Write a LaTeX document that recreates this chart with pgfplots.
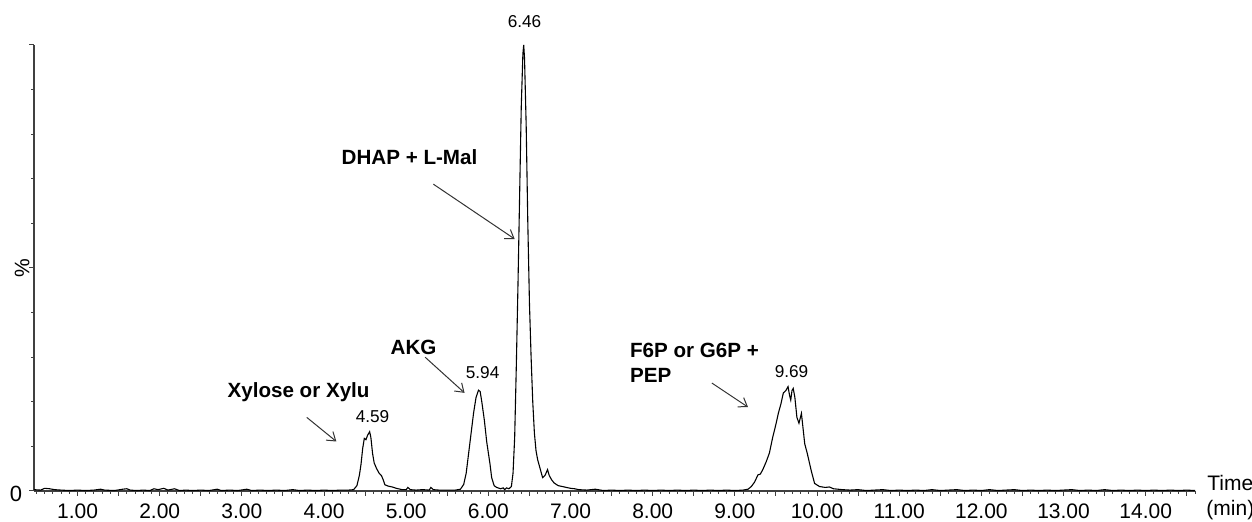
\documentclass[border=0pt]{standalone}
\usepackage{fontspec}
\setmainfont{Liberation Sans}
\usepackage{pgfplots}
\pgfplotsset{compat=1.18}
\usepackage{pgfplotstable}
\usetikzlibrary{arrows.meta}

% chromatogram trace, time (min) vs relative intensity (%)
\pgfplotstableread{
t y
0.47 0.3
0.55 0.2
0.60 0.6
0.66 0.5
0.72 0.3
0.80 0.2
0.90 0.1
1.00 0.2
1.10 0.1
1.20 0.2
1.28 0.4
1.33 0.2
1.45 0.1
1.55 0.4
1.60 0.5
1.64 0.2
1.72 0.1
1.80 0.2
1.88 0.1
1.93 0.5
1.98 0.3
2.05 0.6
2.10 0.2
2.18 0.5
2.24 0.1
2.32 0.2
2.40 0.1
2.50 0.2
2.60 0.1
2.70 0.4
2.75 0.1
2.85 0.2
2.95 0.1
3.06 0.4
3.12 0.1
3.22 0.2
3.32 0.1
3.42 0.2
3.52 0.1
3.62 0.3
3.70 0.1
3.80 0.2
3.90 0.1
4.00 0.2
4.10 0.1
4.20 0.2
4.30 0.2
4.36 0.3
4.40 1.2
4.43 3.5
4.45 6.0
4.47 9.5
4.49 11.8
4.51 11.5
4.53 12.5
4.555 13.3
4.57 12.0
4.59 8.5
4.61 6.3
4.64 5.0
4.67 4.0
4.70 3.4
4.72 2.5
4.74 1.4
4.78 1.1
4.83 0.9
4.88 0.6
4.95 0.3
5.00 0.3
5.02 0.8
5.05 0.3
5.12 0.2
5.20 0.3
5.28 0.2
5.30 0.8
5.33 0.3
5.40 0.2
5.50 0.2
5.60 0.2
5.66 0.4
5.70 1.5
5.73 4.0
5.76 8.5
5.79 13.0
5.82 17.5
5.85 21.0
5.88 22.6
5.90 22.3
5.92 20.0
5.95 16.0
5.98 11.0
6.00 8.5
6.02 6.0
6.04 3.0
6.07 1.2
6.10 0.8
6.15 0.5
6.18 0.7
6.20 0.3
6.22 0.7
6.25 0.5
6.28 1.0
6.30 4.0
6.32 12.0
6.34 28.0
6.36 46.0
6.38 66.0
6.40 86.0
6.42 98.0
6.43 100.0
6.44 97.0
6.46 82.0
6.48 60.0
6.50 42.0
6.52 30.0
6.54 20.0
6.56 13.0
6.58 9.0
6.60 7.0
6.63 5.0
6.66 3.0
6.69 3.5
6.72 4.8
6.74 3.5
6.77 2.5
6.80 1.8
6.85 1.2
6.90 1.0
6.95 0.8
7.00 0.6
7.05 0.5
7.10 0.3
7.20 0.2
7.30 0.4
7.40 0.1
7.50 0.2
7.60 0.1
7.70 0.2
7.80 0.1
7.90 0.2
8.00 0.1
8.10 0.2
8.20 0.1
8.30 0.2
8.40 0.1
8.50 0.2
8.60 0.1
8.70 0.2
8.80 0.1
8.90 0.2
9.00 0.1
9.10 0.2
9.16 0.4
9.20 1.0
9.24 2.0
9.28 3.6
9.31 3.8
9.34 4.8
9.38 6.5
9.42 8.5
9.46 12.0
9.50 15.0
9.53 17.5
9.56 19.5
9.59 22.0
9.62 22.5
9.647 23.4
9.665 21.5
9.68 20.4
9.695 22.5
9.71 23.0
9.73 21.0
9.755 16.5
9.78 15.2
9.81 17.4
9.83 14.0
9.85 10.6
9.88 8.5
9.90 6.9
9.93 4.5
9.97 1.7
10.03 1.0
10.10 0.8
10.15 0.9
10.20 0.5
10.31 0.3
10.40 0.2
10.50 0.3
10.60 0.1
10.70 0.2
10.80 0.3
10.90 0.1
11.00 0.2
11.10 0.1
11.20 0.2
11.30 0.1
11.40 0.3
11.50 0.1
11.60 0.2
11.70 0.3
11.80 0.1
11.90 0.2
12.00 0.1
12.10 0.3
12.20 0.1
12.30 0.2
12.40 0.3
12.50 0.1
12.60 0.2
12.70 0.1
12.80 0.2
12.90 0.1
13.00 0.2
13.10 0.3
13.20 0.1
13.30 0.2
13.40 0.1
13.50 0.3
13.60 0.1
13.70 0.2
13.80 0.1
13.90 0.2
14.00 0.1
14.10 0.2
14.20 0.1
14.30 0.2
14.40 0.1
14.50 0.2
14.60 0.1
}\trace

\begin{document}
\begin{tikzpicture}[
  callout/.style={-{Straight Barb[length=4pt,width=5.5pt]}, black!80, line width=0.5pt},
]
\begin{axis}[
  name=ax,
  scale only axis,
  width=580.5pt, height=223pt,
  xmin=0.47, xmax=14.6,
  ymin=0, ymax=100,
  clip=false,
  axis lines*=left,
  axis line style={draw=black!75, line width=0.6pt},
  tick style={draw=black!75, line width=0.5pt},
  tick align=outside,
  major tick length=2.4pt,
  minor tick length=1.4pt,
  xtick={1,2,...,14},
  extra x ticks={1.5,2.5,...,14.5},
  extra x tick labels={},
  extra x tick style={major tick length=2.4pt},
  minor xtick={0.5,0.6,...,14.6},
  ytick={0,50,100},
  yticklabels={0,{},{}},
  minor ytick={10,20,30,40,60,70,80,90},
  /pgf/number format/assume math mode=true,
  xticklabel={\pgfmathprintnumber[fixed,fixed zerofill,precision=2]{\tick}},
  xticklabel style={font=\fontsize{10.5}{11}\selectfont, yshift=-0.5pt},
  yticklabel style={font=\fontsize{11}{12}\selectfont, yshift=-1.5pt},
]
\addplot[black, line width=0.55pt] table[x=t, y=y] {\trace};

% peak labels
\node[font=\fontsize{8.6}{9}\selectfont] at (axis cs:6.44,105.2) {6.46};
\node[font=\fontsize{8.6}{9}\selectfont] at (axis cs:4.59,16.7) {4.59};
\node[font=\fontsize{8.6}{9}\selectfont] at (axis cs:5.93,26.6) {5.94};
\node[font=\fontsize{8.6}{9}\selectfont] at (axis cs:9.69,26.7) {9.69};

% compound annotations
\node[font=\fontsize{10.3}{11}\selectfont\bfseries] at (axis cs:5.04,74.9) {DHAP + L-Mal};
\draw[callout] (axis cs:5.33,68.8) -- (axis cs:6.32,56.5);
\node[font=\fontsize{10.3}{11}\selectfont\bfseries] at (axis cs:3.69,22.1) {Xylose or Xylu};
\draw[callout] (axis cs:3.79,16.5) -- (axis cs:4.15,11.1);
\node[font=\fontsize{10.3}{11}\selectfont\bfseries] at (axis cs:5.09,32.3) {AKG};
\draw[callout] (axis cs:5.23,30.0) -- (axis cs:5.71,22.0);
\node[font=\fontsize{10.3}{12.5}\selectfont\bfseries, align=left, anchor=west, inner sep=0pt]
  at (axis cs:7.72,28.7) {F6P or G6P +\\PEP};
\draw[callout] (axis cs:8.72,24.2) -- (axis cs:9.16,18.8);

% axis titles
\node[rotate=90, font=\fontsize{10.5}{11}\selectfont] at (axis description cs:-0.0103,0.5) {\%};
\node[font=\fontsize{10.5}{12.5}\selectfont, align=center] at (axis cs:15.03,-1.5) {Time\\(min)};
\end{axis}
\pgfresetboundingbox
\path (ax.south west) ++(-17pt,-15.5pt) rectangle ([xshift=28.5pt,yshift=22.5pt]ax.north east);
\end{tikzpicture}
\end{document}
